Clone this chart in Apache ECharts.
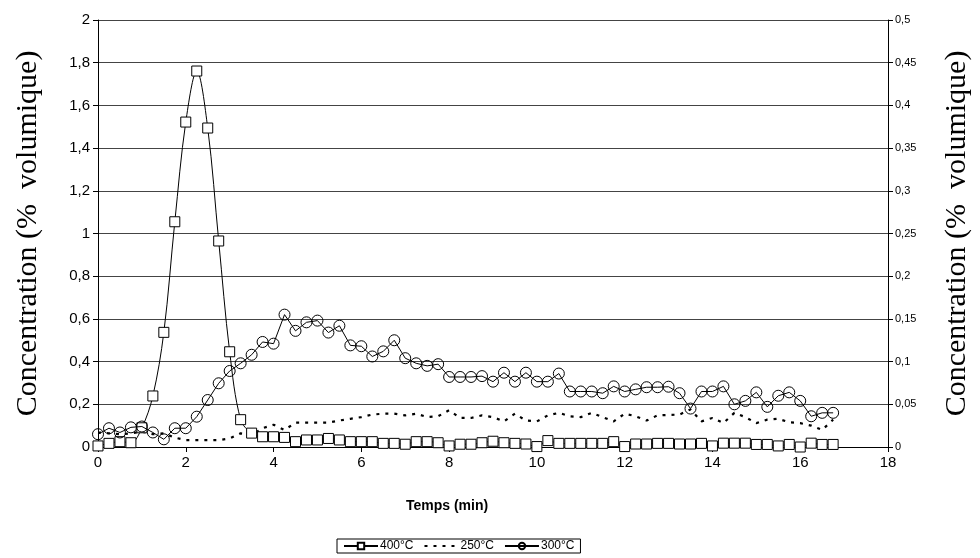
<!DOCTYPE html>
<html><head><meta charset="utf-8">
<script src="https://cdn.jsdelivr.net/npm/echarts@6/dist/echarts.min.js"></script>
<style>html,body{margin:0;padding:0;background:#fff}#c{width:980px;height:558px}</style>
</head><body><div id="c"></div>
<script>
const times = [0,0.25,0.5,0.75,1,1.25,1.5,1.75,2,2.25,2.5,2.75,3,3.25,3.5,3.75,4,4.25,4.5,4.75,5,5.25,5.5,5.75,6,6.25,6.5,6.75,7,7.25,7.5,7.75,8,8.25,8.5,8.75,9,9.25,9.5,9.75,10,10.25,10.5,10.75,11,11.25,11.5,11.75,12,12.25,12.5,12.75,13,13.25,13.5,13.75,14,14.25,14.5,14.75,15,15.25,15.5,15.75,16,16.25,16.5,16.75];
const s400 = [0.005,0.017,0.025,0.02,0.09,0.239,0.537,1.055,1.522,1.761,1.494,0.965,0.446,0.128,0.065,0.048,0.048,0.045,0.025,0.033,0.033,0.04,0.033,0.025,0.025,0.025,0.017,0.017,0.013,0.025,0.025,0.02,0.005,0.013,0.013,0.02,0.027,0.02,0.017,0.014,0.002,0.03,0.017,0.017,0.017,0.017,0.017,0.025,0.002,0.014,0.014,0.017,0.017,0.014,0.014,0.017,0.005,0.018,0.018,0.018,0.012,0.012,0.005,0.012,0.0,0.018,0.012,0.012];
const s250 = [0.017,0.016,0.015,0.016,0.018,0.015,0.016,0.011,0.008,0.008,0.008,0.008,0.010,0.016,0.014,0.022,0.026,0.020,0.0285,0.0285,0.0285,0.0285,0.031,0.033,0.035,0.038,0.039,0.039,0.037,0.039,0.035,0.036,0.043,0.034,0.034,0.037,0.035,0.030,0.039,0.031,0.030,0.037,0.040,0.036,0.035,0.040,0.035,0.030,0.039,0.036,0.031,0.037,0.0375,0.038,0.044,0.030,0.034,0.028,0.040,0.035,0.028,0.032,0.033,0.029,0.028,0.025,0.020,0.032];
const s300 = [0.015,0.022,0.017,0.023,0.024,0.017,0.009,0.022,0.022,0.0355,0.055,0.0746,0.089,0.098,0.108,0.123,0.121,0.155,0.136,0.146,0.148,0.134,0.142,0.119,0.118,0.106,0.112,0.125,0.104,0.098,0.095,0.097,0.082,0.082,0.082,0.083,0.0765,0.087,0.0765,0.087,0.0765,0.0765,0.086,0.065,0.065,0.065,0.063,0.071,0.065,0.0675,0.07,0.07,0.0706,0.063,0.045,0.065,0.065,0.071,0.050,0.054,0.064,0.047,0.060,0.064,0.054,0.036,0.040,0.040];
const names = ['400°C','250°C','300°C'];
const yTitle = 'Concentration (%  volumique)';
const xTitle = 'Temps (min)';

const pair = arr => times.map((t,i)=>[t,arr[i]]);
const comma = v => String(Math.round(v*1000)/1000).replace('.',',');
const chart = echarts.init(document.getElementById('c'));
const sans = 'Liberation Sans, Arial, sans-serif';
const serif = 'Liberation Serif, Times New Roman, serif';
chart.setOption({
  animation:false,
  backgroundColor:'#fff',
  grid:{left:98,right:89,top:20,bottom:111,containLabel:false},
  xAxis:{type:'value',min:0,max:18,interval:2,
    axisLine:{lineStyle:{color:'#000',width:1}},
    axisTick:{show:true,length:5,lineStyle:{color:'#000'}},
    axisLabel:{color:'#000',fontFamily:sans,fontSize:15,margin:8},
    splitLine:{show:false}},
  yAxis:[
    {type:'value',min:0,max:2,interval:0.2,position:'left',
     name:yTitle,nameLocation:'middle',nameGap:55,
     nameTextStyle:{fontFamily:serif,fontSize:30,color:'#000'},
     axisLine:{show:true,lineStyle:{color:'#000'}},
     axisTick:{show:true,length:5,lineStyle:{color:'#000'}},
     axisLabel:{color:'#000',fontFamily:sans,fontSize:15,margin:8,formatter:comma},
     splitLine:{show:true,lineStyle:{color:'#444',width:1}}},
    {type:'value',min:0,max:0.5,interval:0.05,position:'right',
     name:yTitle,nameLocation:'middle',nameGap:54,nameRotate:90,
     nameTextStyle:{fontFamily:serif,fontSize:30,color:'#000'},
     axisLine:{show:true,lineStyle:{color:'#000'}},
     axisTick:{show:true,length:5,lineStyle:{color:'#000'}},
     axisLabel:{color:'#000',fontFamily:sans,fontSize:11,margin:7,formatter:comma},
     splitLine:{show:false}}
  ],
  legend:{left:337,top:539,padding:[1,6],itemGap:10,itemWidth:34,itemHeight:8,
    borderColor:'#000',borderWidth:1,borderRadius:0,
    textStyle:{fontFamily:sans,fontSize:12,color:'#000',padding:[0,0,0,-3]},
    data:[{name:names[0]},{name:names[1],itemStyle:{opacity:0}},{name:names[2]}]},
  graphic:[{type:'text',x:447,y:499,style:{text:xTitle,font:'bold 14px '+sans,fill:'#000',textAlign:'center'}}],
  series:[
    {name:names[0],type:'line',yAxisIndex:0,data:pair(s400),smooth:0.35,
     symbol:'rect',symbolSize:10,showAllSymbol:true,
     lineStyle:{color:'#000',width:1},
     itemStyle:{color:'#fff',borderColor:'#000',borderWidth:1},z:3},
    {name:names[1],type:'line',yAxisIndex:1,data:pair(s250),smooth:false,
     symbol:'none',
     lineStyle:{color:'#000',width:2.2,type:[3,6]},
     itemStyle:{color:'#000'},z:2},
    {name:names[2],type:'line',yAxisIndex:1,data:pair(s300),
     symbol:'circle',symbolSize:11,showAllSymbol:true,
     lineStyle:{color:'#000',width:1},
     itemStyle:{color:'rgba(255,255,255,0)',borderColor:'#000',borderWidth:1},z:4}
  ]
});
</script></body></html>
